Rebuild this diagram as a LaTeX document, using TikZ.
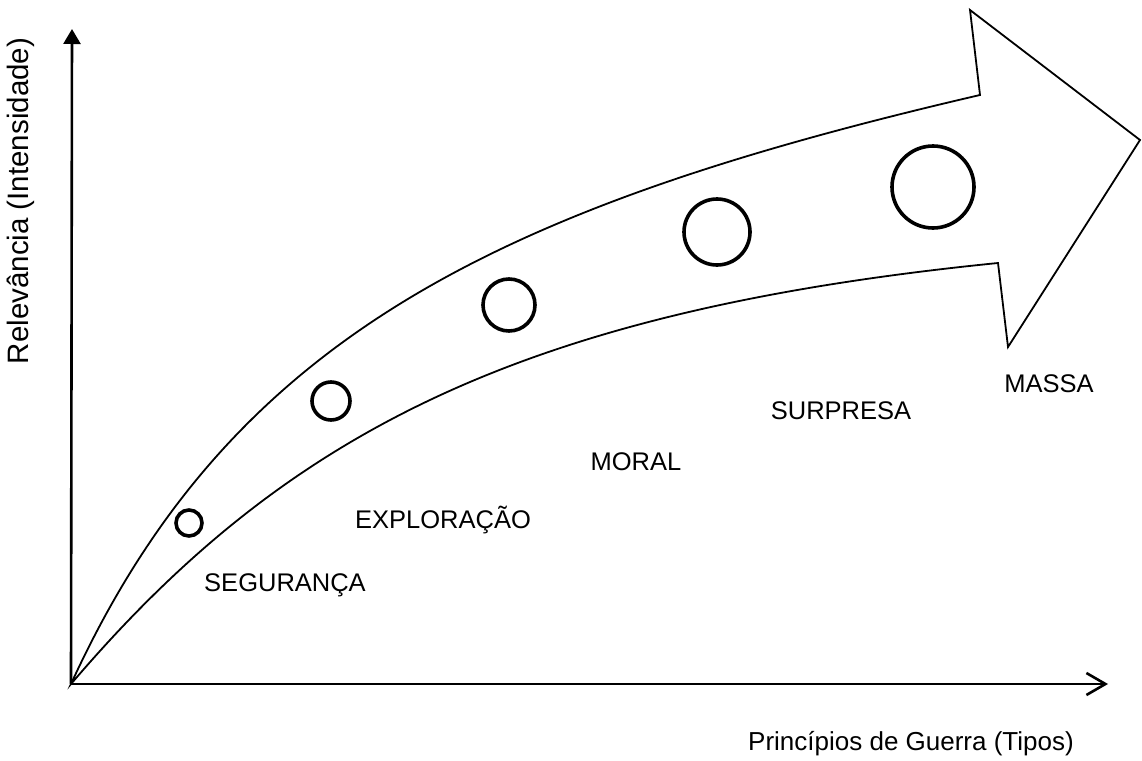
\documentclass[tikz,border=0pt]{standalone}
\usepackage{fontspec}
\setmainfont{Liberation Sans}
\usetikzlibrary{arrows.meta}
\begin{document}
\begin{tikzpicture}[x=1pt,y=-1pt,
  lbl/.style={font=\fontsize{25.5}{30}\selectfont, inner sep=0pt, anchor=center},
  ring/.style={circle, draw, line width=3.6pt, inner sep=0pt},
  axis/.style={line width=2.6pt},
  band/.style={line width=1.8pt, line join=miter}]
\useasboundingbox (0,0) rectangle (1142,760);
\coordinate (O) at (71,684);
\coordinate (Ytop) at (72,29);
\coordinate (Xend) at (1108,684);
% axes
\draw[axis, -{Triangle[length=15pt,width=17pt]}] (O) -- (Ytop);
\draw[axis, -{Straight Barb[length=19pt,width=22pt,line width=2.6pt]}] (O) -- (Xend);
% big curved arrow
\coordinate (U) at (980,95);
\coordinate (L) at (998,263);
\draw[band] (O) .. controls (229,339) and (493,208) .. (U)
  -- (970,10) -- (1140,140) -- (1008,347) -- (L)
  .. controls (520,311) and (285,433) .. (O) -- cycle;
% circles
\node[ring, minimum size=26pt] (c1) at (189,523) {};
\node[ring, minimum size=38pt] (c2) at (331,401) {};
\node[ring, minimum size=52pt] (c3) at (509,305) {};
\node[ring, minimum size=66pt] (c4) at (717,232) {};
\node[ring, minimum size=82pt] (c5) at (933,187) {};
% labels
\node[lbl] (t1) at (285,585) {SEGURANÇA};
\node[lbl] (t2) at (443,520) {EXPLORAÇÃO};
\node[lbl] (t3) at (636,462) {MORAL};
\node[lbl] (t4) at (841,411) {SURPRESA};
\node[lbl] (t5) at (1049,384) {MASSA};
\node[lbl, font=\fontsize{26}{30}\selectfont] (xl) at (911,744) {Princípios de Guerra (Tipos)};
\node[lbl, font=\fontsize{29.5}{34}\selectfont, rotate=90] (yl) at (21,201) {Relevância (Intensidade)};
\end{tikzpicture}
\end{document}
